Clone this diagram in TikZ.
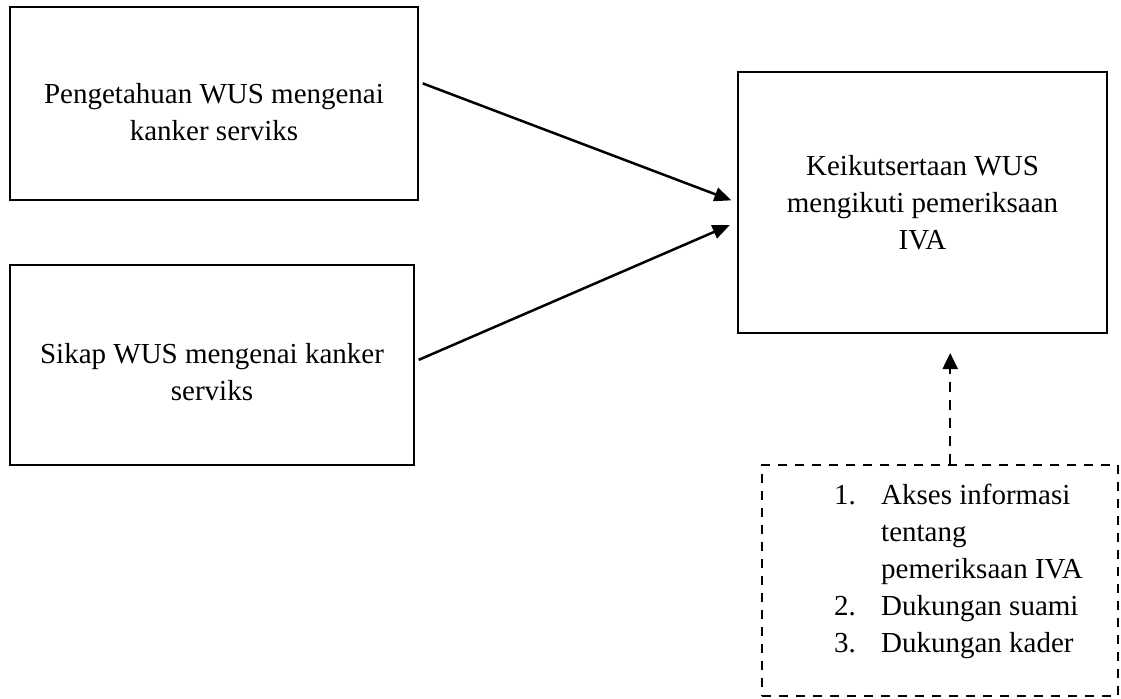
\documentclass[tikz,border=0pt]{standalone}
\usepackage{fontspec}
\setmainfont{Liberation Serif}
\usetikzlibrary{arrows.meta}
\newcommand{\padtop}[1]{\rule{0pt}{#1}}
\begin{document}
\begin{tikzpicture}[
    box/.style={draw, line width=0.04cm, inner sep=0pt, align=center},
    dashbox/.style={draw, line width=0.045cm, inner sep=0pt, dash pattern=on 0.18cm off 0.16cm},
    arr/.style={line width=0.05cm, -{Triangle[length=0.34cm,width=0.28cm]}},
    dasharr/.style={line width=0.045cm, dash pattern=on 0.2cm off 0.16cm, -{Triangle[length=0.32cm,width=0.3cm]}},
    font=\fontsize{16.5}{21}\selectfont]
    \useasboundingbox (0,0) rectangle (22.42,-13.96);
    \node [box, minimum width=8.16cm, minimum height=3.86cm] (pengetahuan) at (4.28,-2.07)
        {\padtop{0.74cm}Pengetahuan WUS mengenai\\kanker serviks};
    \node [box, minimum width=8.08cm, minimum height=4cm] (sikap) at (4.24,-7.3)
        {\padtop{0.7cm}Sikap WUS mengenai kanker\\serviks};
    \node [box, minimum width=7.38cm, minimum height=5.22cm] (ikut) at (18.45,-4.05)
        {Keikutsertaan WUS\\mengikuti pemeriksaan\\IVA};
    \node [dashbox, minimum width=7.12cm, minimum height=4.62cm] (faktor) at (18.8,-11.61)
        {\begin{tabular}{@{\hspace{0.74cm}}p{0.94cm}@{}l@{}}
            1. & Akses informasi\\
               & tentang\\
               & pemeriksaan IVA\\
            2. & Dukungan suami\\
            3. & Dukungan kader\\[0.38cm]
        \end{tabular}};
    \draw [arr, shorten <=0.08cm, shorten >=0.12cm] (pengetahuan.6) -- (ikut.west);
    \draw [arr, shorten <=0.08cm, shorten >=0.16cm] (sikap.1) -- (ikut.186);
    \draw [dasharr, shorten >=0.38cm] (faktor.85.5) -- (faktor.85.5 |- ikut.south);
\end{tikzpicture}
\end{document}
